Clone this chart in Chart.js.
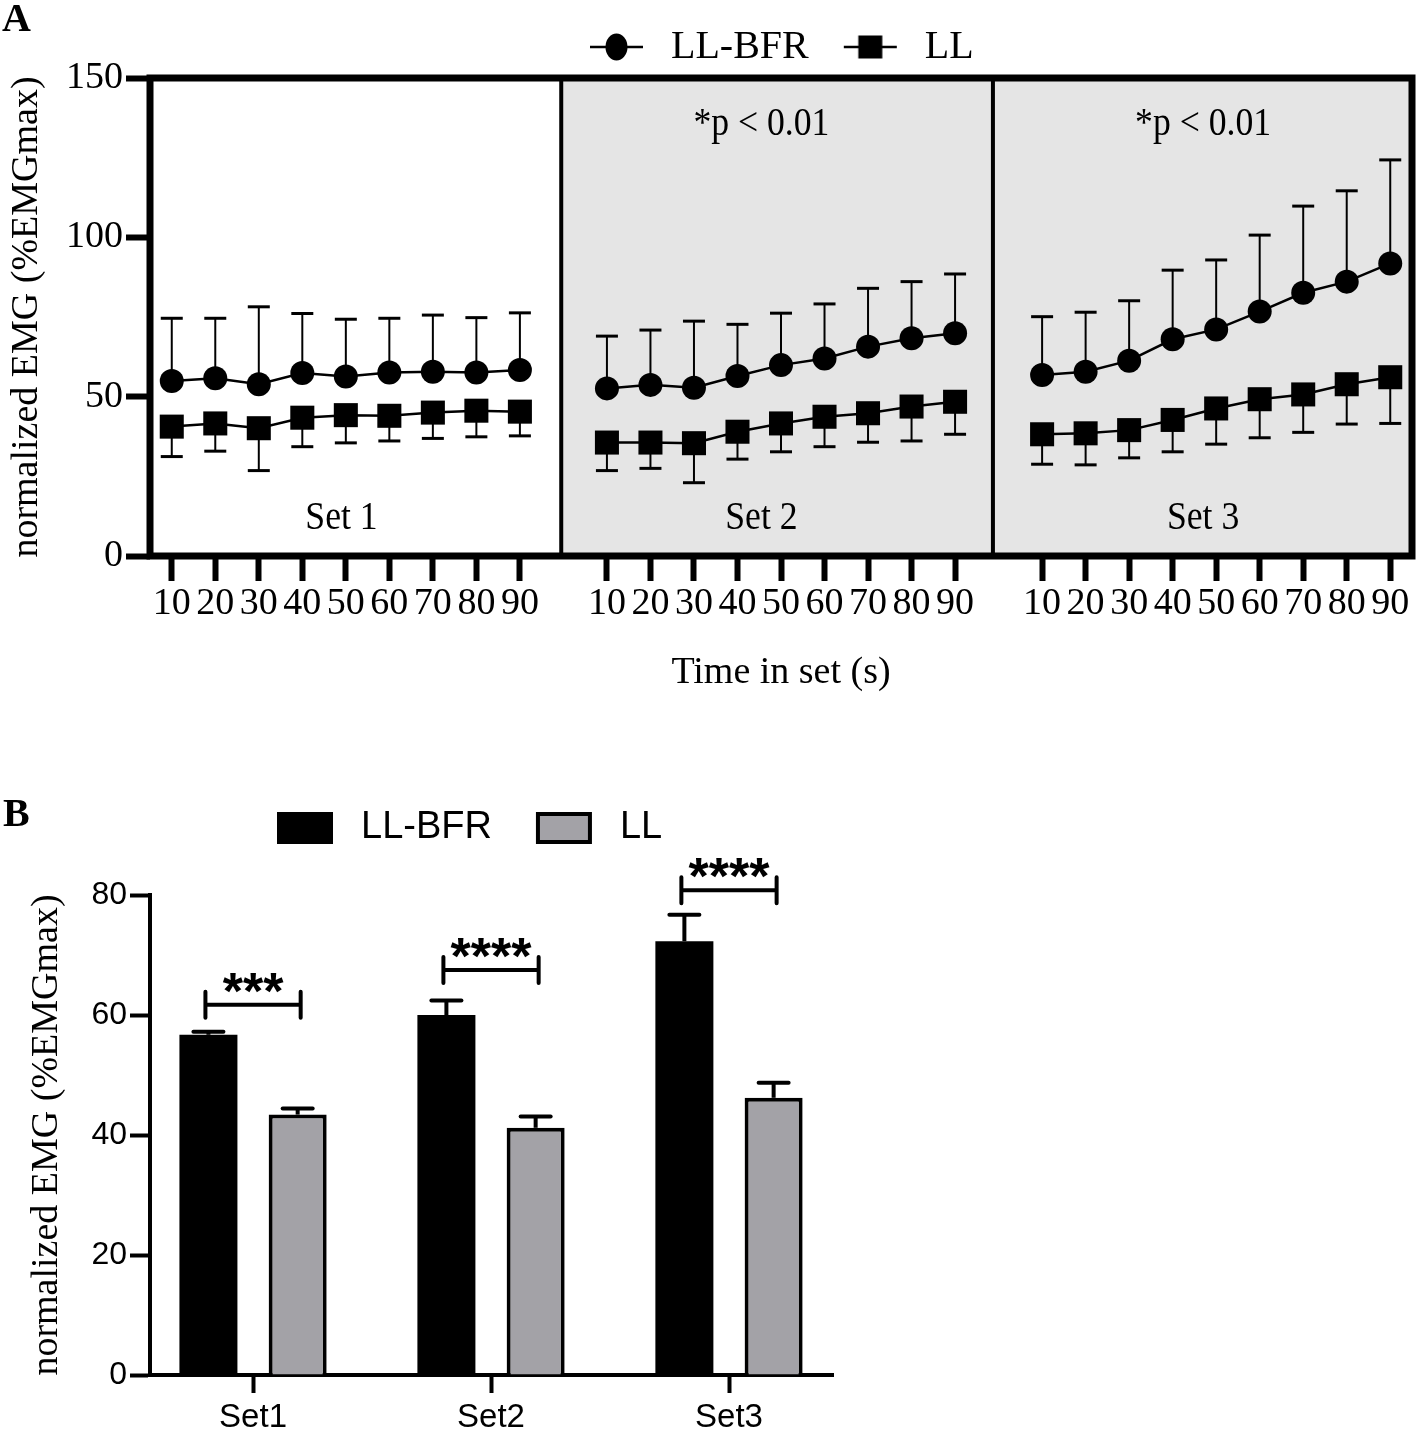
<!DOCTYPE html>
<html>
<head>
<meta charset="utf-8">
<title>Normalized EMG</title>
<script src="https://cdn.jsdelivr.net/npm/chart.js@4.4.1/dist/chart.umd.min.js"></script>
<style>
  html, body { margin: 0; padding: 0; background: #fff; }
  body { position: relative; width: 1418px; height: 1433px; overflow: hidden; }
  #chartA { position: absolute; left: 0; top: 0; }
  #chartB { position: absolute; left: 0; top: 760px; }
</style>
</head>
<body>
<canvas id="chartA" width="1418" height="700"></canvas>
<canvas id="chartB" width="850" height="673"></canvas>
<script>
const SERIF = '"Liberation Serif", "Times New Roman", serif';
const SANS = '"Liberation Sans", Arial, sans-serif';

// Panel A: mean and SD per 10 s bin, one row per set
const timeLabels = ["10", "20", "30", "40", "50", "60", "70", "80", "90"];
const setNames = ["Set 1", "Set 2", "Set 3"];
const setNotes = ["", "*p < 0.01", "*p < 0.01"];

const bfrMean = [
  [54.9, 55.8, 53.9, 57.4, 56.3, 57.6, 57.8, 57.6, 58.4],
  [52.6, 53.7, 52.8, 56.5, 59.9, 62.0, 65.7, 68.3, 69.9],
  [56.8, 57.8, 61.3, 68.0, 71.1, 76.7, 82.6, 86.1, 91.8]
];
const bfrSd = [
  [19.7, 18.8, 24.3, 18.7, 18.0, 17.0, 17.8, 17.2, 17.9],
  [16.4, 17.2, 20.9, 16.2, 16.3, 17.1, 18.3, 17.8, 18.6],
  [18.3, 18.7, 18.8, 21.7, 21.8, 24.0, 27.2, 28.5, 32.5]
];
const llMean = [
  [40.6, 41.6, 40.1, 43.4, 44.2, 44.0, 45.0, 45.6, 45.3],
  [35.6, 35.6, 35.4, 39.0, 41.6, 43.7, 44.8, 46.9, 48.4],
  [38.2, 38.5, 39.5, 42.7, 46.3, 49.2, 50.7, 53.9, 56.1]
];
const llSd = [
  [9.4, 8.7, 13.3, 9.1, 8.7, 7.9, 8.1, 8.2, 7.6],
  [8.8, 8.1, 12.4, 8.6, 8.9, 9.4, 9.1, 10.8, 10.2],
  [9.4, 9.9, 8.7, 10.0, 11.2, 12.1, 11.9, 12.5, 14.5]
];

// Panel B: mean and SEM over each set
const barSets = ["Set1", "Set2", "Set3"];
const barBfr = [56.7, 60.0, 72.3];
const barBfrErr = [0.5, 2.4, 4.4];
const barLl = [43.4, 41.2, 46.2];
const barLlErr = [1.0, 1.9, 2.5];
const sigStars = ["***", "****", "****"];
const sigLevel = [61.7, 67.5, 80.8];

// x layout of panel A: point i of set s sits at s*10 + i
const sectionEdges = [-0.5, 8.95, 18.87, 28.5];
const sectionFill = ["#ffffff", "#e5e5e5", "#e5e5e5"];
const setLabelX = [3.9, 13.55, 23.7];

function flatten(rows, sdRows) {
  const pts = [];
  const errs = [];
  rows.forEach((row, s) => {
    row.forEach((v, i) => {
      pts.push({ x: s * 10 + i, y: v });
      errs.push(sdRows[s][i]);
    });
    if (s < rows.length - 1) {
      pts.push({ x: s * 10 + 9, y: null });
      errs.push(null);
    }
  });
  return { pts, errs };
}

const tickValues = [];
setNames.forEach((_, s) => timeLabels.forEach((_, i) => tickValues.push(s * 10 + i)));

function makeIcon(w, h, draw) {
  const c = document.createElement("canvas");
  c.width = w;
  c.height = h;
  draw(c.getContext("2d"), w, h);
  return c;
}

const iconsA = [
  makeIcon(69, 30, (g, w, h) => {
    g.strokeStyle = "#000"; g.lineWidth = 2.5;
    g.beginPath(); g.moveTo(8, h / 2); g.lineTo(w - 8, h / 2); g.stroke();
    g.fillStyle = "#000";
    g.beginPath(); g.ellipse(w / 2, h / 2, 11, 13.5, 0, 0, Math.PI * 2); g.fill();
  }),
  makeIcon(69, 30, (g, w, h) => {
    g.strokeStyle = "#000"; g.lineWidth = 2.5;
    g.beginPath(); g.moveTo(8, h / 2); g.lineTo(w - 8, h / 2); g.stroke();
    g.fillStyle = "#000";
    g.fillRect(w / 2 - 12, h / 2 - 11.5, 24, 23);
  })
];

const iconsB = [
  makeIcon(74, 32, (g) => {
    g.fillStyle = "#000"; g.fillRect(9, 0, 56, 32);
  }),
  makeIcon(74, 32, (g) => {
    g.fillStyle = "#000"; g.fillRect(9, 0, 56, 32);
    g.fillStyle = "#a3a2a7"; g.fillRect(13, 4, 48, 24);
  })
];

// move the legend so its first item starts at startX and its text is centred on centerY
function placeLegend(chart, startX, centerY, fontSize) {
  const lg = chart.legend;
  const pad = lg.options.labels.padding;
  const curStart = (lg.left + pad + lg.right - lg.lineWidths[0]) / 2;
  const dx = startX - curStart;
  lg.left += dx;
  lg.right += dx;
  const dy = centerY - (lg.top + pad + fontSize / 2);
  lg.top += dy;
  lg.bottom += dy;
}

function condensedText(ctx, text, x, y, font, sx) {
  ctx.save();
  ctx.translate(x, y);
  ctx.scale(sx, 1);
  ctx.font = font;
  ctx.fillStyle = "#000";
  ctx.textAlign = "center";
  ctx.textBaseline = "middle";
  ctx.fillText(text, 0, 0);
  ctx.restore();
}

// ---------- Panel A ----------
const bfrFlat = flatten(bfrMean, bfrSd);
const llFlat = flatten(llMean, llSd);

const panelA = {
  id: "panelA",
  afterLayout(chart) {
    placeLegend(chart, 582, 47, 40);
  },
  beforeDraw(chart) {
    const { ctx, chartArea } = chart;
    const x = chart.scales.x;
    ctx.save();
    sectionFill.forEach((c, i) => {
      const x0 = x.getPixelForValue(sectionEdges[i]);
      const x1 = x.getPixelForValue(sectionEdges[i + 1]);
      ctx.fillStyle = c;
      ctx.fillRect(x0, chartArea.top, x1 - x0, chartArea.bottom - chartArea.top);
    });
    ctx.restore();
  },
  beforeDatasetsDraw(chart) {
    // error bars: up for LL-BFR, down for LL
    const { ctx } = chart;
    const y = chart.scales.y;
    ctx.save();
    ctx.strokeStyle = "#000";
    chart.data.datasets.forEach((ds, d) => {
      const meta = chart.getDatasetMeta(d);
      meta.data.forEach((pt, j) => {
        const sd = ds.errors[j];
        if (sd == null) return;
        const end = y.getPixelForValue(ds.data[j].y + ds.errorDir * sd);
        ctx.lineWidth = 2;
        ctx.beginPath(); ctx.moveTo(pt.x, pt.y); ctx.lineTo(pt.x, end); ctx.stroke();
        ctx.lineWidth = 3;
        ctx.beginPath(); ctx.moveTo(pt.x - 11, end); ctx.lineTo(pt.x + 11, end); ctx.stroke();
      });
    });
    ctx.restore();
  },
  afterDraw(chart) {
    const { ctx, chartArea } = chart;
    const x = chart.scales.x;
    ctx.save();
    ctx.strokeStyle = "#000";
    ctx.lineWidth = 4;
    sectionEdges.slice(1, -1).forEach(v => {
      const px = x.getPixelForValue(v);
      ctx.beginPath(); ctx.moveTo(px, chartArea.top); ctx.lineTo(px, chartArea.bottom); ctx.stroke();
    });
    ctx.lineWidth = 7;
    ctx.strokeRect(chartArea.left, chartArea.top, chartArea.right - chartArea.left, chartArea.bottom - chartArea.top);
    ctx.restore();

    setNames.forEach((name, i) => {
      const px = x.getPixelForValue(setLabelX[i]);
      condensedText(ctx, name, px, chartArea.bottom - 38, "41px " + SERIF, 0.87);
      if (setNotes[i]) condensedText(ctx, setNotes[i], px, chartArea.top + 46, "41px " + SERIF, 0.87);
    });

    ctx.save();
    ctx.font = "bold 40px " + SERIF;
    ctx.fillStyle = "#000";
    ctx.textBaseline = "middle";
    ctx.fillText("A", 2, 21);
    ctx.restore();
  }
};

new Chart(document.getElementById("chartA"), {
  type: "line",
  data: {
    datasets: [
      {
        label: "LL-BFR",
        data: bfrFlat.pts,
        errors: bfrFlat.errs,
        errorDir: 1,
        borderColor: "#000",
        borderWidth: 2.5,
        pointStyle: "circle",
        pointRadius: 12,
        pointHoverRadius: 12,
        pointBorderWidth: 0,
        pointBackgroundColor: "#000",
        tension: 0
      },
      {
        label: "LL",
        data: llFlat.pts,
        errors: llFlat.errs,
        errorDir: -1,
        borderColor: "#000",
        borderWidth: 2.5,
        pointStyle: "rect",
        pointRadius: 17,
        pointHoverRadius: 17,
        pointBorderWidth: 0,
        pointBackgroundColor: "#000",
        tension: 0
      }
    ]
  },
  options: {
    responsive: false,
    animation: false,
    devicePixelRatio: 1,
    layout: { autoPadding: false, padding: { top: 1, right: 6, bottom: 0, left: 0 } },
    plugins: {
      tooltip: { enabled: false },
      legend: {
        position: "top",
        labels: {
          usePointStyle: true,
          pointStyleWidth: 69,
          padding: 27,
          color: "#000",
          font: { family: SERIF, size: 40 },
          generateLabels: chart =>
            Chart.defaults.plugins.legend.labels.generateLabels(chart)
              .map((item, i) => ({ ...item, pointStyle: iconsA[i] }))
        }
      }
    },
    scales: {
      x: {
        type: "linear",
        min: sectionEdges[0],
        max: sectionEdges[sectionEdges.length - 1],
        afterBuildTicks: s => { s.ticks = tickValues.map(v => ({ value: v })); },
        afterFit: s => { s.height = 144; s.paddingLeft = 0; s.paddingRight = 0; },
        ticks: {
          callback: v => timeLabels[v % 10],
          autoSkip: false,
          maxRotation: 0,
          minRotation: 0,
          padding: 0,
          color: "#000",
          font: { family: SERIF, size: 38 }
        },
        grid: { display: true, drawOnChartArea: false, drawTicks: true, tickLength: 25, tickWidth: 6, tickColor: "#000" },
        border: { display: false },
        title: {
          display: true,
          text: "Time in set (s)",
          color: "#000",
          font: { family: SERIF, size: 38 },
          padding: { top: 0, bottom: 4 }
        }
      },
      y: {
        min: 0,
        max: 150,
        afterFit: s => { s.width = 150; },
        ticks: { stepSize: 50, padding: 3, color: "#000", font: { family: SERIF, size: 38 } },
        grid: { display: true, drawOnChartArea: false, drawTicks: true, tickLength: 24, tickWidth: 6, tickColor: "#000" },
        border: { display: false },
        title: {
          display: true,
          text: "normalized EMG (%EMGmax)",
          color: "#000",
          font: { family: SERIF, size: 38 },
          padding: { top: 4, bottom: 0 }
        }
      }
    }
  },
  plugins: [panelA]
});

// ---------- Panel B ----------
const panelB = {
  id: "panelB",
  afterLayout(chart) {
    placeLegend(chart, 268, 68, 38);
  },
  afterDatasetsDraw(chart) {
    const { ctx } = chart;
    const y = chart.scales.y;
    ctx.save();
    ctx.strokeStyle = "#000";
    ctx.fillStyle = "#000";
    ctx.lineWidth = 4;

    // error bars (up only)
    chart.data.datasets.forEach((ds, d) => {
      chart.getDatasetMeta(d).data.forEach((bar, j) => {
        const end = y.getPixelForValue(ds.data[j].y + ds.errors[j]);
        ctx.lineCap = "butt";
        ctx.beginPath(); ctx.moveTo(bar.x, bar.y); ctx.lineTo(bar.x, end); ctx.stroke();
        ctx.lineCap = "round";
        ctx.beginPath(); ctx.moveTo(bar.x - 15, end); ctx.lineTo(bar.x + 15, end); ctx.stroke();
      });
    });

    // significance brackets
    const bfrBars = chart.getDatasetMeta(0).data;
    const llBars = chart.getDatasetMeta(1).data;
    ctx.lineCap = "round";
    sigStars.forEach((stars, i) => {
      const x1 = bfrBars[i].x - 3;
      const x2 = llBars[i].x + 3;
      const py = y.getPixelForValue(sigLevel[i]);
      ctx.beginPath();
      ctx.moveTo(x1, py - 13); ctx.lineTo(x1, py + 13);
      ctx.moveTo(x2, py - 13); ctx.lineTo(x2, py + 13);
      ctx.moveTo(x1, py); ctx.lineTo(x2, py);
      ctx.stroke();
      ctx.font = "bold 52px " + SANS;
      ctx.textAlign = "center";
      ctx.textBaseline = "alphabetic";
      ctx.fillText(stars, (x1 + x2) / 2, py + 4);
    });
    ctx.restore();
  },
  afterDraw(chart) {
    const { ctx } = chart;
    ctx.save();
    ctx.font = "bold 40px " + SERIF;
    ctx.fillStyle = "#000";
    ctx.textBaseline = "middle";
    ctx.fillText("B", 3, 56);
    ctx.restore();
  }
};

new Chart(document.getElementById("chartB"), {
  type: "bar",
  data: {
    datasets: [
      {
        label: "LL-BFR",
        data: barBfr.map((v, i) => ({ x: i, y: v })),
        errors: barBfrErr,
        backgroundColor: "#000",
        borderWidth: 0,
        categoryPercentage: 0.75,
        barPercentage: 0.65
      },
      {
        label: "LL",
        data: barLl.map((v, i) => ({ x: i, y: v })),
        errors: barLlErr,
        backgroundColor: "#a3a2a7",
        borderColor: "#000",
        borderWidth: 4,
        categoryPercentage: 0.75,
        barPercentage: 0.65
      }
    ]
  },
  options: {
    responsive: false,
    animation: false,
    devicePixelRatio: 1,
    layout: { autoPadding: false, padding: { top: 52, right: 17, bottom: 0, left: 0 } },
    plugins: {
      tooltip: { enabled: false },
      legend: {
        position: "top",
        labels: {
          usePointStyle: true,
          pointStyleWidth: 74,
          padding: 35,
          color: "#000",
          font: { family: SANS, size: 38 },
          generateLabels: chart =>
            Chart.defaults.plugins.legend.labels.generateLabels(chart)
              .map((item, i) => ({ ...item, pointStyle: iconsB[i] }))
        }
      }
    },
    scales: {
      x: {
        type: "linear",
        min: -0.433,
        max: 2.437,
        offset: false,
        afterBuildTicks: s => { s.ticks = barSets.map((_, i) => ({ value: i })); },
        afterFit: s => { s.height = 58; },
        ticks: {
          callback: v => barSets[v],
          autoSkip: false,
          maxRotation: 0,
          padding: 5,
          color: "#000",
          font: { family: SANS, size: 33 }
        },
        grid: { display: true, offset: false, drawOnChartArea: false, drawTicks: true, tickLength: 18, tickWidth: 4, tickColor: "#000" },
        border: { display: true, width: 4, color: "#000" }
      },
      y: {
        min: 0,
        max: 80,
        afterFit: s => { s.width = 150; },
        ticks: { stepSize: 20, padding: 3, color: "#000", font: { family: SANS, size: 32 } },
        grid: { display: true, drawOnChartArea: false, drawTicks: true, tickLength: 20, tickWidth: 4, tickColor: "#000" },
        border: { display: true, width: 4, color: "#000" },
        title: {
          display: true,
          text: "normalized EMG (%EMGmax)",
          color: "#000",
          font: { family: SERIF, size: 38 },
          padding: { top: 24, bottom: 0 }
        }
      }
    }
  },
  plugins: [panelB]
});
</script>
</body>
</html>
